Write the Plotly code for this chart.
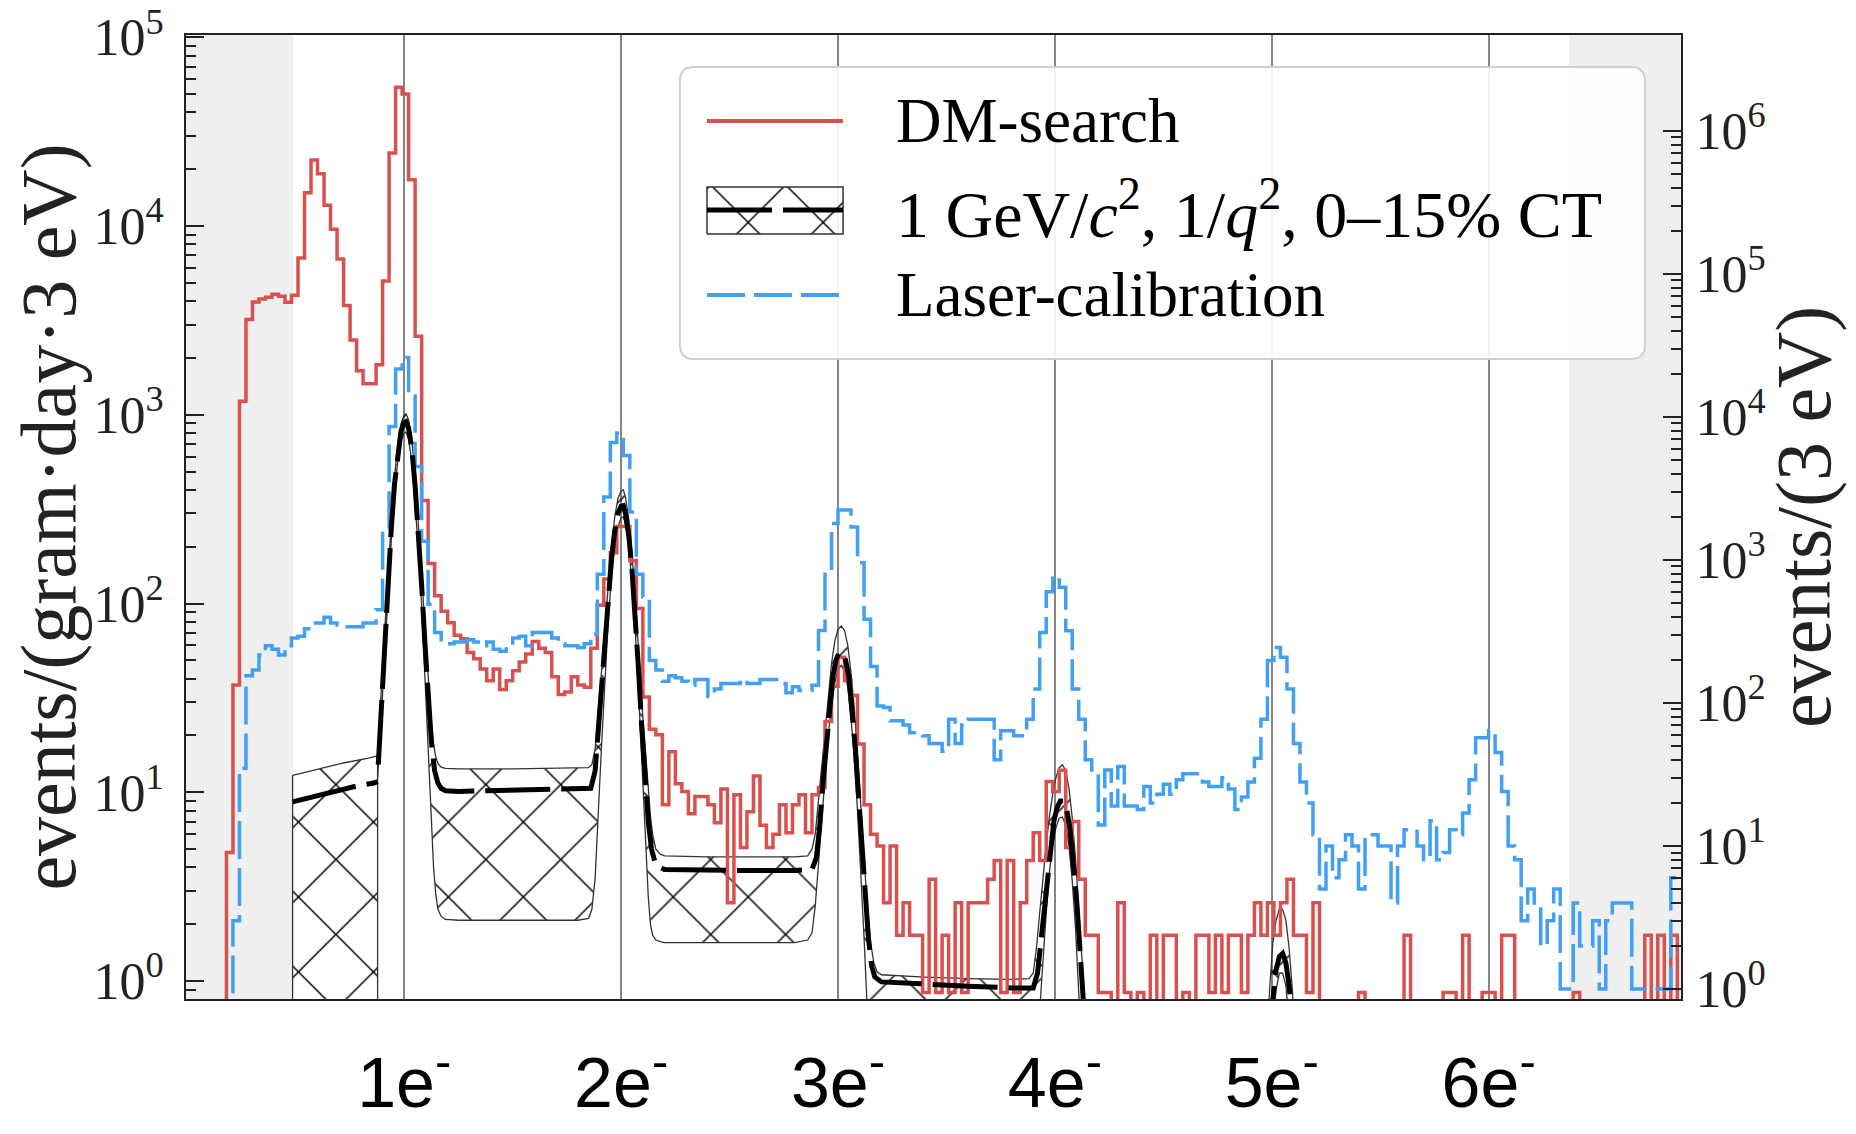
import numpy as np
import plotly.graph_objects as go

# ---------------------------------------------------------------- data
BIN_WIDTH_EV = 3.0                      # histogram bin width (eV)
X_RANGE_EV = [-0.65, 688.7]
LEFT_LOG_RANGE = [-0.095, 5.012]        # events/(gram day 3 eV)
RIGHT_LOG_RANGE = [-0.07, 6.67]         # events/(3 eV)
GRAY_LEFT_END_EV = 48.7
GRAY_RIGHT_START_EV = 637.0

PEAK_EV = [100, 200, 300, 400, 500, 600]
PEAK_LABELS = ["1e<sup>-</sup>", "2e<sup>-</sup>", "3e<sup>-</sup>",
               "4e<sup>-</sup>", "5e<sup>-</sup>", "6e<sup>-</sup>"]

LEFT_TICK_VALS = [1, 10, 100, 1000, 10000, 100000]
LEFT_TICK_TEXT = ["10<sup>0</sup>", "10<sup>1</sup>", "10<sup>2</sup>",
                  "10<sup>3</sup>", "10<sup>4</sup>", "10<sup>5</sup>"]
RIGHT_TICK_VALS = [1, 10, 100, 1000, 10000, 100000, 1000000]
RIGHT_TICK_TEXT = ["10<sup>0</sup>", "10<sup>1</sup>", "10<sup>2</sup>",
                   "10<sup>3</sup>", "10<sup>4</sup>", "10<sup>5</sup>",
                   "10<sup>6</sup>"]

# DM-search histogram, events/(gram day 3 eV), one value per 3 eV bin from 0 eV
DM_SEARCH = [
    0, 0, 0, 0, 0, 0, 4.8, 37, 1180, 3200,
    3960, 4100, 4200, 4350, 4250, 3950, 4300, 6770, 15000, 22400,
    18900, 12900, 9600, 6680, 3790, 2490, 1710, 1460, 1460, 1840,
    5120, 24400, 54300, 50100, 17600, 2610, 352, 163, 110, 91,
    79, 68, 65, 55, 51, 45, 39, 45, 35, 39,
    44, 49, 54, 63, 58, 55, 41, 33, 34, 41,
    37, 36, 58, 98, 135, 186, 256, 256, 169, 94,
    32, 21.6, 20.2, 8.6, 16.4, 11.1, 10.1, 7.7, 9.5, 9.5,
    8.6, 6.9, 10.4, 2.6, 9.7, 5.1, 7.9, 12.2, 6.7, 5.1,
    6.0, 8.6, 6.1, 8.6, 9.7, 6.1, 9.7, 10.6, 23.7, 36.5,
    52, 39, 32.6, 18, 8.6, 6.0, 5.2, 2.6, 5.2, 1.75,
    2.6, 1.75, 1.75, 0.87, 3.46, 0.87, 1.75, 0.87, 2.6, 0.87,
    2.6, 2.6, 2.6, 3.46, 4.35, 0.87, 4.35, 0.87, 2.6, 4.35,
    6.1, 4.35, 11.4, 10.1, 13.1, 5.1, 7.0, 3.46, 1.75, 1.75,
    0.87, 0.87, 0, 2.6, 0.87, 0, 0.87, 0, 1.75, 0,
    1.75, 1.75, 0, 0.87, 0, 1.75, 1.75, 0.87, 1.75, 0.87,
    1.75, 1.75, 0.87, 1.75, 2.6, 1.75, 2.6, 1.75, 2.6, 3.46,
    1.75, 1.75, 0.87, 2.6, 0, 0, 0, 0, 0, 0,
    0.87, 0, 0, 0, 0, 0, 0, 1.75, 0, 0,
    0, 0, 0, 0.87, 0.87, 0, 1.75, 0, 0, 0.87,
    0.87, 0, 1.75, 1.75, 0, 0, 0, 0, 0, 0,
    0, 0, 0, 0.87, 0, 0, 0, 0, 0, 0,
    0, 0, 0, 0, 1.75, 0, 1.75, 0, 1.75, 0,
]

# Laser-calibration histogram, events/(3 eV), same bins
LASER_CALIBRATION = [
    0, 0, 0, 0, 0, 0, 0, 3, 35, 155,
    170, 216, 251, 237, 216, 251, 284, 293, 330, 362,
    362, 397, 362, 351, 341, 341, 341, 362, 362, 448,
    1650, 8560, 21600, 26000, 14000, 4500, 1350, 490, 311, 276,
    259, 267, 267, 276, 267, 251, 267, 237, 230, 251,
    284, 292, 251, 311, 311, 311, 284, 259, 251, 251,
    244, 259, 302, 794, 2750, 6620, 7700, 5370, 2160, 794,
    550, 198, 170, 142, 155, 150, 142, 133, 146, 146,
    111, 125, 137, 137, 137, 146, 137, 137, 146, 146,
    146, 137, 118, 130, 122, 122, 133, 321, 794, 1800,
    2230, 2230, 1700, 955, 385, 180, 95, 93, 75, 75,
    70, 62, 62, 59, 52, 52, 46, 77, 52, 70,
    77, 77, 77, 77, 40, 64, 64, 59, 59, 77,
    125, 311, 600, 770, 645, 320, 125, 77, 40, 32,
    14, 34, 19, 36, 19, 19, 18, 26, 20, 23,
    27, 23, 29, 32, 32, 32, 28, 26, 26, 30,
    25, 18, 22, 28, 41, 77, 198, 244, 209, 125,
    52, 28, 20, 12, 5, 10, 6, 8, 12, 10,
    5, 12, 12, 10, 10, 4, 10, 13, 13, 10,
    8, 15, 8, 9, 13, 12, 17, 29, 57, 57,
    64, 45, 24, 10, 8, 3, 5, 4, 2, 3,
    5, 1, 1, 4, 2, 2, 3, 1, 3, 4,
    4, 4, 1, 1, 1, 1, 1, 1, 6, 6,
]

# Model: 1 GeV/c^2, 1/q^2 (central curve), events/(gram day 3 eV)
MODEL_EV = [48.5, 55, 62, 70, 78, 86, 87.7, None,
            88.0, 89.5, 91, 92.5, 94, 95.5, 97, 98.5, 100, 100.8, 102, 103.5,
            105, 106.5, 108, 109.5, 111, 112.5, 114, 115.5, 117, 119, 125, 140,
            160, 180, 186, 188, 189.5, 191, 192.5, 194, 195.5, 197, 198.5, 200,
            201, 202, 203.5, 205, 206.5, 208, 209.5, 211, 212.5, 214, 216, 220,
            240, 260, 280, 288, 290, 291.5, 293, 294.5, 296, 297.5, 299, 300.5,
            302, 303.5, 305, 306.5, 308, 309.5, 311, 312.5, 314, 315.5, 317, 320,
            340, 360, 380, 390, 392, 393.5, 395, 396.5, 398, 399.5, 401, 402.5,
            404, 405.5, 407, 408.5, 410, 411.5, 413, 414.5, 416, 420, 497, 499,
            500.5, 502, 503.5, 505, 506.5, 508, 509.5, 511, 515]
MODEL_RATE = [8.9, 9.3, 9.8, 10.3, 10.8, 11.2, 11.4, None,
              14, 30, 65, 130, 250, 430, 640, 820, 910, 920, 850, 660,
              420, 240, 125, 62, 32, 18.5, 13, 11.2, 10.5, 10.2, 10.1, 10.2,
              10.3, 10.4, 10.5, 13, 22, 37, 65, 110, 170, 240, 300, 328,
              330, 300, 230, 150, 90, 45, 22, 12, 7, 5, 4.1, 3.9,
              3.85, 3.85, 3.85, 3.9, 4.5, 6.5, 11, 18, 28, 40, 50, 55,
              55, 50, 41, 28, 17, 9.5, 5.2, 2.8, 1.7, 1.2, 1.05, 0.99,
              0.96, 0.94, 0.92, 0.92, 1.1, 1.6, 2.5, 3.8, 5.4, 7.0, 8.3, 9.0,
              9.0, 8.1, 6.3, 4.4, 2.7, 1.5, 0.85, 0.45, 0.2, 0.05, 0.05, 0.4,
              0.8, 1.15, 1.35, 1.4, 1.25, 0.95, 0.6, 0.3, 0.05]

# 0-15% CT band (upper / lower edge); 0 = below the plotted range
BAND1_EV = [48.5, 60, 72, 84, 87.7]
BAND1_HI = [12.3, 13.3, 14.3, 15.2, 15.6]
BAND1_LO = [0, 0, 0, 0, 0]

BAND2_EV = [87.7, 89.5, 91, 92.5, 94, 95.5, 97, 98.5, 100, 100.8, 102, 103.5,
            105, 106.5, 108, 109.5, 111, 112.5, 113.5, 114.5, 115.5, 117, 119,
            125, 150, 180, 185, 186.5, 188, 189.5, 191, 192.5, 194, 195.5, 197,
            198.5, 200, 201, 202, 203.5, 205, 206.5, 208, 209.5, 211, 212.5,
            213.5, 214.5, 216, 218, 220, 240, 260, 280, 286, 288, 289.5, 291,
            292.5, 294, 295.5, 297, 298.5, 300, 301.5, 303, 304.5, 306, 307.5,
            309, 310.5, 312, 313.5, 315, 316.5, 318, 320, 340, 360, 380, 388,
            390, 391.5, 393, 394.5, 396, 397.5, 399, 400.5, 402, 403.5, 405,
            406.5, 408, 409.5, 411, 412.5, 414, 416]
BAND2_HI = [16, 34, 72, 145, 275, 470, 700, 900, 1000, 1010, 940, 730,
            470, 270, 145, 75, 40, 23, 18, 15.5, 14.2, 13.6, 13.4,
            13.3, 13.3, 13.4, 13.5, 14, 17, 27, 45, 78, 130, 200, 285,
            360, 395, 400, 365, 280, 185, 110, 58, 30, 17, 10,
            7.5, 6, 5, 4.7, 4.6, 4.55, 4.55, 4.55, 4.6, 5, 6, 9,
            14, 22, 33, 48, 63, 73, 76, 72, 60, 43, 28,
            16, 8.5, 4.5, 2.5, 1.6, 1.25, 1.12, 1.08, 1.05, 1.03, 1.02, 1.03,
            1.1, 1.5, 2.3, 3.6, 5.3, 7.5, 9.8, 12, 13.5, 14, 13,
            10.5, 7.3, 4.5, 2.5, 1.3, 0.7, 0.3]
BAND2_LO = [12, 26, 55, 112, 215, 380, 570, 730, 800, 810, 740, 560,
            350, 195, 98, 45, 18, 7, 4, 2.9, 2.4, 2.2, 2.12,
            2.1, 2.1, 2.1, 2.15, 2.4, 3.5, 8, 18, 40, 80, 135, 200,
            255, 285, 288, 262, 200, 128, 72, 34, 15, 6, 2.8,
            2.0, 1.75, 1.65, 1.62, 1.6, 1.6, 1.6, 1.6, 1.65, 1.8, 2.5, 4,
            7, 12, 20, 29, 38, 45, 47, 44, 36, 25, 15,
            8, 3.8, 1.7, 0.7, 0.3, 0.1, 0, 0, 0, 0, 0, 0,
            0, 0.3, 0.7, 1.3, 2.3, 3.8, 5.3, 6.5, 7.3, 7.4, 6.7,
            5.2, 3.4, 1.9, 0.9, 0.4, 0, 0]

BAND3_EV = [497, 499, 500.5, 502, 503.5, 505, 506.5, 508, 509.5, 511]
BAND3_HI = [0.3, 0.9, 1.6, 2.1, 2.4, 2.4, 2.1, 1.5, 0.9, 0.4]
BAND3_LO = [0, 0.3, 0.6, 0.9, 1.1, 1.1, 0.95, 0.6, 0.3, 0]

# ---------------------------------------------------------------- style
RED = "#d9514f"
BLUE = "#42a0f4"
AXIS = "#222222"
SERIF = "Liberation Serif"
SANS = "Liberation Sans"
FLOOR = 1e-3          # stands in for empty bins on the log axes

HATCH = dict(shape="x", size=53, solidity=0.055, fgcolor="black",
             fgopacity=1, bgcolor="rgba(0,0,0,0)", fillmode="overlay")


def floored(vals):
    return [None if v is None else (v if v > 0 else FLOOR) for v in vals]


def step_xy(values):
    edges = (np.arange(len(values) + 1) * BIN_WIDTH_EV).tolist()
    vals = floored(values)
    return edges, vals + [vals[-1]]


def band_polygon(segments):
    xs, ys = [], []
    for ev, hi, lo in segments:
        xs += list(ev) + list(ev[::-1]) + [ev[0], None]
        ys += floored(hi) + floored(lo[::-1]) + floored([hi[0]]) + [None]
    return xs, ys


fig = go.Figure()

# hatched band
bx, by = band_polygon([(BAND1_EV, BAND1_HI, BAND1_LO),
                       (BAND2_EV, BAND2_HI, BAND2_LO),
                       (BAND3_EV, BAND3_HI, BAND3_LO)])
fig.add_trace(go.Scatter(x=bx, y=by, mode="lines", fill="toself",
                         fillcolor="rgba(0,0,0,0)", fillpattern=HATCH,
                         line=dict(color="#333333", width=1.3),
                         yaxis="y", showlegend=False, hoverinfo="skip"))

# DM-search histogram (left axis)
rx, ry = step_xy(DM_SEARCH)
fig.add_trace(go.Scatter(x=rx, y=ry, mode="lines", line_shape="hv",
                         line=dict(color=RED, width=3.5), yaxis="y",
                         showlegend=False, hoverinfo="skip"))

# Laser-calibration histogram (right axis)
lx, ly = step_xy(LASER_CALIBRATION)
fig.add_trace(go.Scatter(x=lx, y=ly, mode="lines", line_shape="hv",
                         line=dict(color=BLUE, width=3.5, dash="38px,9px"),
                         yaxis="y2", showlegend=False, hoverinfo="skip"))

# model central curve (drawn on top)
fig.add_trace(go.Scatter(x=MODEL_EV, y=floored(MODEL_RATE), mode="lines",
                         line=dict(color="black", width=5, dash="65px,11px"),
                         yaxis="y3", showlegend=False, hoverinfo="skip",
                         connectgaps=False))

# ---------------------------------------------------------------- legend
LEG_X0, LEG_X1, LEG_Y0, LEG_Y1 = 0.3304, 0.9759, 0.6639, 0.9668
RAD_X, RAD_Y = 12 / 1495, 12 / 964


def rounded_box(x0, x1, y0, y1, rx_, ry_):
    xs, ys = [], []
    corners = [(x1 - rx_, y1 - ry_, 0), (x0 + rx_, y1 - ry_, 90),
               (x0 + rx_, y0 + ry_, 180), (x1 - rx_, y0 + ry_, 270)]
    for cx, cy, a0 in corners:
        ang = np.radians(np.linspace(a0, a0 + 90, 8))
        xs += (cx + rx_ * np.cos(ang)).tolist()
        ys += (cy + ry_ * np.sin(ang)).tolist()
    return xs + [xs[0]], ys + [ys[0]]


lbx, lby = rounded_box(LEG_X0, LEG_X1, LEG_Y0, LEG_Y1, RAD_X, RAD_Y)
fig.add_trace(go.Scatter(x=lbx, y=lby, mode="lines", fill="toself",
                         fillcolor="rgba(255,255,255,0.9)",
                         line=dict(color="#cfcfcf", width=2),
                         xaxis="x2", yaxis="y4", showlegend=False,
                         hoverinfo="skip"))

H_X0, H_X1 = 0.3485, 0.4395
ROW_Y = [0.9108, 0.8185, 0.7303]
fig.add_trace(go.Scatter(x=[H_X0, H_X1], y=[ROW_Y[0]] * 2, mode="lines",
                         line=dict(color=RED, width=4), xaxis="x2", yaxis="y4",
                         showlegend=False, hoverinfo="skip"))
fig.add_trace(go.Scatter(x=[H_X0, H_X1, H_X1, H_X0, H_X0],
                         y=[0.7936, 0.7936, 0.8423, 0.8423, 0.7936],
                         mode="lines", fill="toself", fillcolor="rgba(0,0,0,0)",
                         fillpattern=HATCH, line=dict(color="#333333", width=1.5),
                         xaxis="x2", yaxis="y4", showlegend=False,
                         hoverinfo="skip"))
fig.add_trace(go.Scatter(x=[H_X0, H_X1], y=[ROW_Y[1]] * 2, mode="lines",
                         line=dict(color="black", width=5, dash="65px,11px"),
                         xaxis="x2", yaxis="y4", showlegend=False,
                         hoverinfo="skip"))
fig.add_trace(go.Scatter(x=[H_X0, H_X1], y=[ROW_Y[2]] * 2, mode="lines",
                         line=dict(color=BLUE, width=4, dash="38px,9px"),
                         xaxis="x2", yaxis="y4", showlegend=False,
                         hoverinfo="skip"))

LEGEND_TEXT = ["DM-search",
               "1 GeV/<i>c</i><sup>2</sup>, 1/<i>q</i><sup>2</sup>, 0–15% CT",
               "Laser-calibration"]
LEGEND_SIZE = [63, 66, 63]
annotations = []
for t, yv, fs in zip(LEGEND_TEXT, ROW_Y, LEGEND_SIZE):
    annotations.append(dict(text=t, x=0.4736, y=yv, xref="paper", yref="paper",
                            xanchor="left", yanchor="middle", showarrow=False,
                            font=dict(family=SERIF, size=fs, color="black")))

annotations.append(dict(text="events/(gram·day·3 eV)", x=-0.0926, y=0.5,
                        xref="paper", yref="paper", textangle=-90,
                        xanchor="center", yanchor="middle", showarrow=False,
                        font=dict(family=SERIF, size=78, color="#222222")))
annotations.append(dict(text="events/(3 eV)", x=1.0816, y=0.5,
                        xref="paper", yref="paper", textangle=-90,
                        xanchor="center", yanchor="middle", showarrow=False,
                        font=dict(family=SERIF, size=78, color="#222222")))

# ---------------------------------------------------------------- layout
left_minor = [0.9] + [m * 10 ** e for e in range(0, 5) for m in range(2, 10)]
right_minor = [m * 10 ** e for e in range(0, 6) for m in range(2, 10)]

yaxis_common = dict(type="log", showgrid=False, zeroline=False, showline=True,
                    linecolor=AXIS, linewidth=2, ticks="inside", ticklen=18,
                    tickwidth=2, tickcolor=AXIS, automargin=False,
                    tickfont=dict(family=SERIF, size=52, color="#222222"))

fig.update_layout(
    width=1856, height=1134,
    margin=dict(l=186, r=175, t=35, b=135),
    paper_bgcolor="white", plot_bgcolor="white",
    showlegend=False,
    xaxis=dict(range=X_RANGE_EV, tickmode="array", tickvals=PEAK_EV,
               ticktext=PEAK_LABELS, showgrid=True, gridcolor="#858585",
               gridwidth=1.5, zeroline=False, showline=True, mirror=True,
               linecolor=AXIS, linewidth=2, ticks="", automargin=False,
               ticklabelstandoff=22,
               tickfont=dict(family=SANS, size=70, color="black")),
    yaxis=dict(range=LEFT_LOG_RANGE, tickmode="array", tickvals=LEFT_TICK_VALS,
               ticktext=LEFT_TICK_TEXT, ticklabelstandoff=10,
               minor=dict(tickmode="array", tickvals=left_minor, ticks="inside",
                          ticklen=10, tickwidth=1.5, tickcolor=AXIS,
                          showgrid=False),
               **yaxis_common),
    yaxis2=dict(range=RIGHT_LOG_RANGE, overlaying="y", side="right",
                anchor="x", tickmode="array", tickvals=RIGHT_TICK_VALS,
                ticktext=RIGHT_TICK_TEXT, ticklabelstandoff=2,
                minor=dict(tickmode="array", tickvals=right_minor,
                           ticks="inside", ticklen=10, tickwidth=1.5,
                           tickcolor=AXIS, showgrid=False),
                **yaxis_common),
    yaxis3=dict(type="log", range=LEFT_LOG_RANGE, overlaying="y",
                visible=False),
    xaxis2=dict(range=[0, 1], overlaying="x", visible=False, anchor="y4"),
    yaxis4=dict(range=[0, 1], overlaying="y", visible=False, anchor="x2"),
    annotations=annotations,
    shapes=[
        dict(type="rect", xref="x", yref="paper", x0=X_RANGE_EV[0],
             x1=GRAY_LEFT_END_EV, y0=0, y1=1, fillcolor="#efefef",
             line=dict(width=0), layer="below"),
        dict(type="rect", xref="x", yref="paper", x0=GRAY_RIGHT_START_EV,
             x1=X_RANGE_EV[1], y0=0, y1=1, fillcolor="#efefef",
             line=dict(width=0), layer="below"),
    ],
)

fig.write_html("out.html")
